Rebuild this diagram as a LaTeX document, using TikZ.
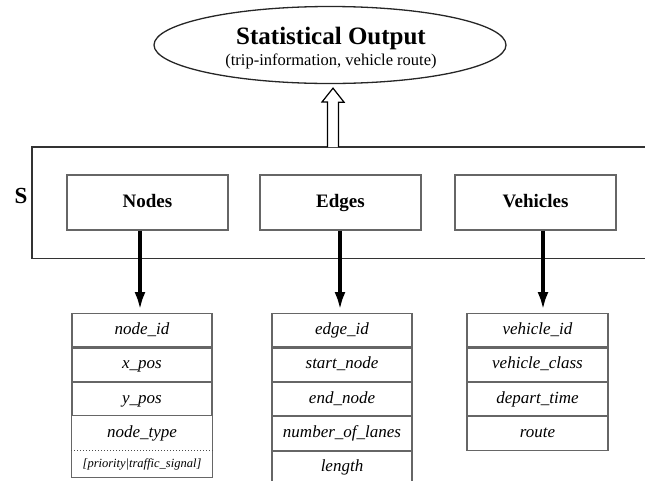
\documentclass[tikz,border=0pt]{standalone}
\usepackage{fontspec}
\setmainfont{Liberation Serif}
\usetikzlibrary{shapes.geometric,arrows.meta}
\begin{document}
\begin{tikzpicture}[x=1pt,y=-1pt,
  frame/.style={draw=black!80, line width=1.8pt},
  entity/.style={draw=black!60, line width=1.3pt, fill=white, minimum width=161pt, minimum height=55pt, inner sep=0pt, text height=13pt, text depth=4pt, font=\fontsize{19}{22}\selectfont\bfseries},
  field/.style={draw=black!60, line width=1.1pt, minimum width=140pt, minimum height=33.3pt, inner sep=0pt, text height=12pt, text depth=4pt, font=\fontsize{17}{19}\selectfont\itshape},
  plainfield/.style={field, draw=none},
  link/.style={line width=4.5pt, -{Latex[length=18pt,width=11pt]}},
  hollow/.style={draw=black, line width=1.2pt, fill=white, line join=miter},
]
\useasboundingbox (0,0) rectangle (645,480);

% output ellipse
\node[ellipse, draw=black!85, line width=1.3pt, minimum width=352pt, minimum height=77pt] (out) at (330,45) {};
\node[align=center, inner sep=0pt] (outtxt) at (331,48)
  {{\fontsize{25}{27}\selectfont\bfseries Statistical Output}\\[3pt]{\fontsize{16.5}{19}\selectfont (trip-information, vehicle route)}};

% system frame (right side runs off the picture)
\draw[frame] (650,147) -- (32,147) -- (32,258.5) -- (650,258.5);
\coordinate (ftop) at (333,147);
\node[font=\fontsize{23}{26}\selectfont\bfseries, inner sep=0pt] (S) at (21,196) {S};

% hollow arrow up to the ellipse
\coordinate (tip) at ([yshift=-4pt]out.south -| ftop);
\draw[hollow] ([xshift=-5.5pt]ftop) -- ++(0,-45) -- ++(-5.5,0) -- (tip) -- ++(11,14) -- ++(-5.5,0) -- ([xshift=5.5pt]ftop);

% entity boxes
\node[entity] (nodes) at (147.5,202.5) {Nodes};
\node[entity] (edges) at (340.5,202.5) {Edges};
\node[entity] (veh) at (535.5,202.5) {Vehicles};

% Nodes table
\node[field, anchor=north] (nid) at (142,313) {node\_id};
\node[field, anchor=north] (nx) at (nid.south) {x\_pos};
\node[field, anchor=north] (ny) at (nx.south) {y\_pos};
\node[plainfield, anchor=north] (ntype) at (ny.south) {node\_type};
\node[plainfield, anchor=north, minimum height=26pt, text height=9pt, text depth=3pt, font=\fontsize{12.5}{14}\selectfont\itshape] (nsub) at (ntype.south) {[priority|traffic\_signal]};
\draw[draw=black!60, line width=1.1pt] (ntype.north west) -- (nsub.south west) -- (nsub.south east) -- (ntype.north east);
\draw[draw=black!70, line width=1pt, dotted] (ntype.south west) -- (ntype.south east);

% Edges table
\node[field, anchor=north] (eid) at (342,313) {edge\_id};
\node[field, anchor=north] (es) at (eid.south) {start\_node};
\node[field, anchor=north] (ee) at (es.south) {end\_node};
\node[field, anchor=north] (el) at (ee.south) {number\_of\_lanes};
\node[field, anchor=north] (elen) at (el.south) {length};

% Vehicles table
\node[field, anchor=north, minimum width=141pt] (vid) at (537.5,313) {vehicle\_id};
\node[field, anchor=north, minimum width=141pt] (vc) at (vid.south) {vehicle\_class};
\node[field, anchor=north, minimum width=141pt] (vd) at (vc.south) {depart\_time};
\node[field, anchor=north, minimum width=141pt] (vr) at (vd.south) {route};

% connectors
\draw[link] (nodes.south -| 140,0) -- ([yshift=3pt]nid.north -| 140,0);
\draw[link] (edges.south -| 340,0) -- ([yshift=3pt]eid.north -| 340,0);
\draw[link] (veh.south -| 543,0) -- ([yshift=3pt]vid.north -| 543,0);
\end{tikzpicture}
\end{document}
